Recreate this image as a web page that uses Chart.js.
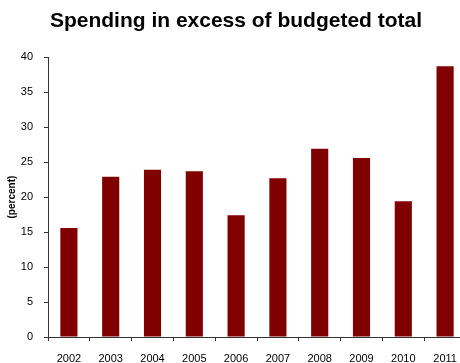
<!DOCTYPE html>
<html>
<head>
<meta charset="utf-8">
<script src="https://cdn.jsdelivr.net/npm/chart.js@4"></script>
<style>
  html, body { margin: 0; padding: 0; background: #fff; overflow: hidden; }
  #wrap { width: 470px; height: 363px; }
</style>
</head>
<body>
<div id="wrap"><canvas id="c" width="470" height="363"></canvas></div>
<script>
// Fiscal years and overspending as a share of the budgeted total
const years = ['2002', '2003', '2004', '2005', '2006', '2007', '2008', '2009', '2010', '2011'];
const excessPercent = [15.6, 22.9, 23.9, 23.7, 17.4, 22.7, 26.9, 25.6, 19.4, 38.7];
const yTicks = [0, 5, 10, 15, 20, 25, 30, 35, 40];

const font = 'Arial, "Liberation Sans", sans-serif';
const axisColor = '#333';

new Chart(document.getElementById('c'), {
  type: 'bar',
  data: {
    labels: years,
    datasets: [{
      data: excessPercent,
      backgroundColor: '#800000',
      borderWidth: 0,
      categoryPercentage: 1,
      barPercentage: 0.41
    }]
  },
  options: {
    responsive: false,
    animation: false,
    devicePixelRatio: 1,
    layout: { padding: { left: 6, right: 4, top: 9, bottom: 0 } },
    plugins: {
      legend: { display: false },
      tooltip: { enabled: false },
      title: {
        display: true,
        text: 'Spending in excess of budgeted total',
        color: '#000',
        font: { family: font, size: 21, weight: 'bold' },
        padding: { top: 0, bottom: 23 }
      }
    },
    scales: {
      x: {
        afterFit: (scale) => { scale.height = 26; },
        grid: { display: true, drawOnChartArea: false, drawTicks: true, tickLength: 4, color: axisColor, offset: true },
        border: { display: true, color: axisColor, width: 1 },
        ticks: { color: '#000', font: { family: font, size: 11 }, padding: 11, maxRotation: 0 }
      },
      y: {
        min: 0,
        max: 40,
        afterFit: (scale) => { scale.width = 42; },
        afterBuildTicks: (axis) => { axis.ticks = yTicks.map(v => ({ value: v })); },
        grid: { display: true, drawOnChartArea: false, drawTicks: true, tickLength: 4, color: axisColor },
        border: { display: true, color: axisColor, width: 1 },
        ticks: { color: '#000', font: { family: font, size: 11 }, padding: 11 },
        title: {
          display: true,
          text: '(percent)',
          color: '#000',
          font: { family: font, size: 10, weight: 'bold' },
          padding: { top: 0.5, bottom: 0 }
        }
      }
    }
  }
});
</script>
</body>
</html>
